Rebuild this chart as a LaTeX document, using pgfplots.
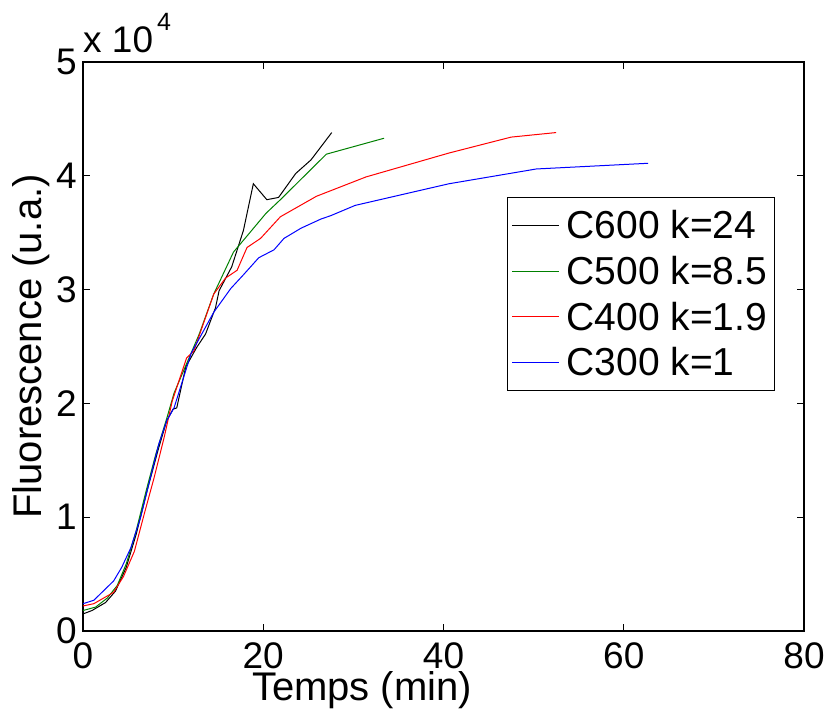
\documentclass[border=0pt]{standalone}
\usepackage{fontspec}
\setmainfont{Liberation Sans}
\usepackage{pgfplots}
\pgfplotsset{compat=1.18}
\definecolor{mgreen}{rgb}{0,0.5,0}
\begin{document}
\begin{tikzpicture}[font=\fontsize{37}{44}\selectfont]
\useasboundingbox (0,0) rectangle (826pt,709pt);
\begin{axis}[
  name=ax,
  at={(83pt,78pt)}, anchor=south west,
  scale only axis, width=721pt, height=569pt,
  xmin=0, xmax=80, ymin=0, ymax=50000,
  xtick={0,20,40,60,80},
  ytick={0,10000,20000,30000,40000,50000},
  yticklabels={0,1,2,3,4,5},
  scaled y ticks=false,
  /pgf/number format/assume math mode=true,
  tick align=inside, major tick length=7pt,
  xtick pos=both, ytick pos=both,
  axis line style={line width=1.6pt},
  every tick/.style={line width=1pt, black},
  tick label style={font=\fontsize{37}{44}\selectfont},
  xticklabel style={inner sep=11pt},
  yticklabel style={inner sep=6pt},
  xlabel={Temps (min)},
  ylabel={Fluorescence (u.a.)},
  label style={font=\fontsize{40}{48}\selectfont},
  xlabel style={at={(axis description cs:0.387,-0.1213)}, anchor=base, inner sep=0pt},
  ylabel style={at={(axis description cs:-0.0569,0.5)}, anchor=base, rotate=0, inner sep=0pt},
  legend cell align=left,
  legend style={at={(axis description cs:0.588,0.763)}, anchor=north west,
    draw=black, line width=1.2pt, inner xsep=4pt, inner ysep=13pt,
    row sep=16pt, column sep=0pt,
    font=\fontsize{39}{46}\selectfont,
    nodes={inner xsep=3pt, inner ysep=0pt}},
  legend image code/.code={\draw[#1, line width=1pt] (0pt,0pt) -- (47pt,0pt); \path (51pt,0pt);},
]
\addplot[black, line width=1pt] coordinates {
(0,1500) (1.0,1800) (2.5,2500) (3.6,3500) (4.8,5600) (5.9,8500) (7.1,12300)
(8.4,16100) (9.3,18500) (10.0,19500) (10.4,19600) (11.4,23200) (12.6,24900)
(13.6,26100) (14.7,28400) (15.1,29900) (16.5,32000) (17.8,35200) (18.9,39300)
(20.4,37900) (21.7,38100) (23.6,40200) (25.3,41400) (27.6,43800)};
\addlegendentry{C600 k=24}
\addplot[mgreen, line width=1pt] coordinates {
(0,1800) (1.4,2100) (2.7,2900) (3.8,4000) (4.8,5900) (5.9,8800) (7.0,12300)
(8.1,15600) (9.3,18700) (10.1,20900) (12.9,26100) (14.5,29600) (16.7,33300)
(18.4,34900) (20.3,36700) (21.9,37900) (27.0,41900) (33.4,43300)};
\addlegendentry{C500 k=8.5}
\addplot[red, line width=1pt] coordinates {
(0,2200) (1.2,2400) (3.4,3400) (4.5,4800) (5.7,7000) (6.8,10300) (7.9,13500)
(9.0,17000) (9.9,20200) (11.5,24000) (12.3,24600) (14.5,29600) (15.8,31000)
(17.1,31700) (18.2,33700) (19.7,34500) (21.9,36400) (25.9,38200) (31.4,39900)
(40.6,42000) (47.5,43400) (52.5,43800)};
\addlegendentry{C400 k=1.9}
\addplot[blue, line width=1pt] coordinates {
(0,2400) (1.2,2700) (3.4,4400) (4.3,5600) (5.3,7300) (6.4,10000) (7.3,12900)
(8.4,16400) (9.3,18500) (10.1,19600) (12.0,24400) (14.5,28000) (16.4,30100)
(17.8,31300) (19.5,32800) (21.2,33500) (22.3,34500) (24.2,35400) (26.4,36200)
(27.5,36500) (30.2,37400) (40.6,39300) (50.3,40600) (62.7,41100)};
\addlegendentry{C300 k=1}
\end{axis}
\node[anchor=base west, inner sep=0pt] at ([yshift=9pt]ax.north west)
  {x 10\hspace{4pt}\raisebox{22pt}{\fontsize{25}{30}\selectfont 4}};
\end{tikzpicture}
\end{document}
